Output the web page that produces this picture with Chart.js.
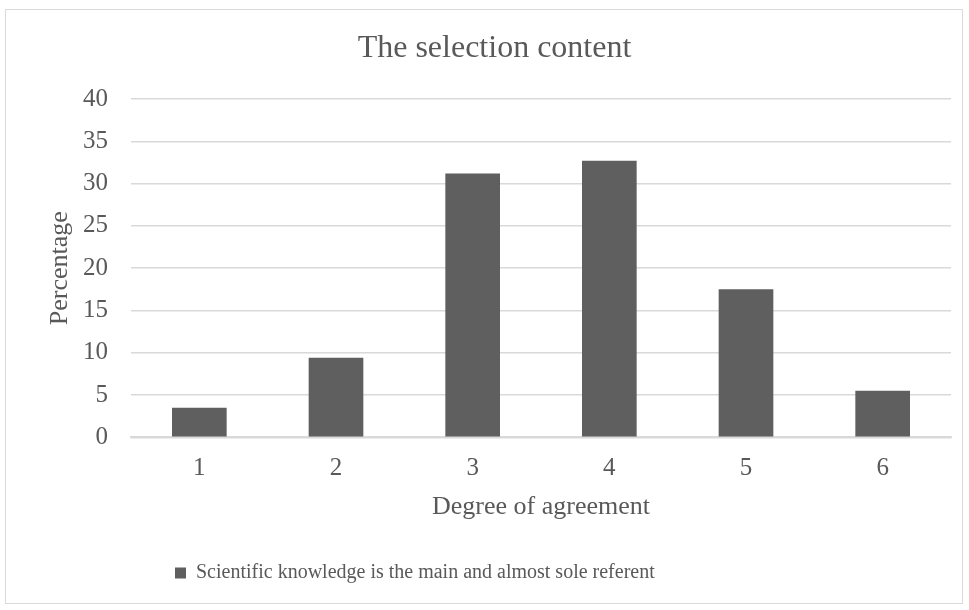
<!DOCTYPE html>
<html>
<head>
<meta charset="utf-8">
<script src="https://cdn.jsdelivr.net/npm/chart.js@4/dist/chart.umd.min.js"></script>
<style>
  html, body { margin:0; padding:0; background:#fff; }
  #frame { position:absolute; left:5px; top:9px; width:958px; height:595px; border:1px solid #d9d9d9; box-sizing:border-box; }
  #frame canvas { display:block; }
</style>
</head>
<body>
<div id="frame"><canvas id="chart"></canvas></div>
<script>
// --- data ---
const categories = ["1","2","3","4","5","6"];
const seriesLabel = "Scientific knowledge is the main and almost sole referent";
const percentages = [3.5, 9.4, 31.2, 32.7, 17.5, 5.5];
const yTicks = [0,5,10,15,20,25,30,35,40];

const textColor = "#595959";
const serif = "'Liberation Serif', 'Times New Roman', serif";

// title sits a bit right of centre, legend sits left, like the original
const nudge = {
  id: "nudge",
  afterLayout(chart){
    chart.titleBlock.left += 16;
    chart.titleBlock.right += 16;
    chart.legend.left = 169 - 15;
  }
};

new Chart(document.getElementById("chart"), {
  type: "bar",
  data: {
    labels: categories,
    datasets: [{
      label: seriesLabel,
      data: percentages,
      backgroundColor: "#5f5f5f",
      borderWidth: 0,
      barPercentage: 0.4,
      categoryPercentage: 1.0
    }]
  },
  plugins: [nudge],
  options: {
    responsive: true,
    maintainAspectRatio: false,
    animation: false,
    layout: { padding: { left: 0, right: 11, top: 0, bottom: 10 } },
    plugins: {
      title: {
        display: true,
        text: "The selection content",
        color: textColor,
        font: { family: serif, size: 32, weight: "normal" },
        padding: { top: 19, bottom: 31.6 }
      },
      legend: {
        display: true,
        position: "bottom",
        align: "start",
        labels: {
          color: textColor,
          font: { family: serif, size: 20 },
          boxWidth: 11,
          boxHeight: 11,
          padding: 15
        }
      },
      tooltip: { enabled: false }
    },
    scales: {
      x: {
        grid: { display: false, drawTicks: false },
        border: { display: true, color: "#d9d9d9", width: 2 },
        ticks: { color: textColor, font: { family: serif, size: 25 }, padding: 16.5 },
        title: {
          display: true,
          text: "Degree of agreement",
          color: textColor,
          font: { family: serif, size: 26 },
          padding: { top: -8.5, bottom: 25 }
        }
      },
      y: {
        min: 0,
        max: 40,
        afterBuildTicks: axis => { axis.ticks = yTicks.map(v => ({ value: v })); },
        afterFit: axis => { axis.width = 125; },
        grid: { color: "#d9d9d9", lineWidth: 1.5, drawTicks: false },
        border: { display: false },
        ticks: { color: textColor, font: { family: serif, size: 25 }, padding: 23 },
        title: {
          display: true,
          text: "Percentage",
          color: textColor,
          font: { family: serif, size: 26 },
          padding: { top: 39, bottom: 0 }
        }
      }
    }
  }
});
</script>
</body>
</html>
